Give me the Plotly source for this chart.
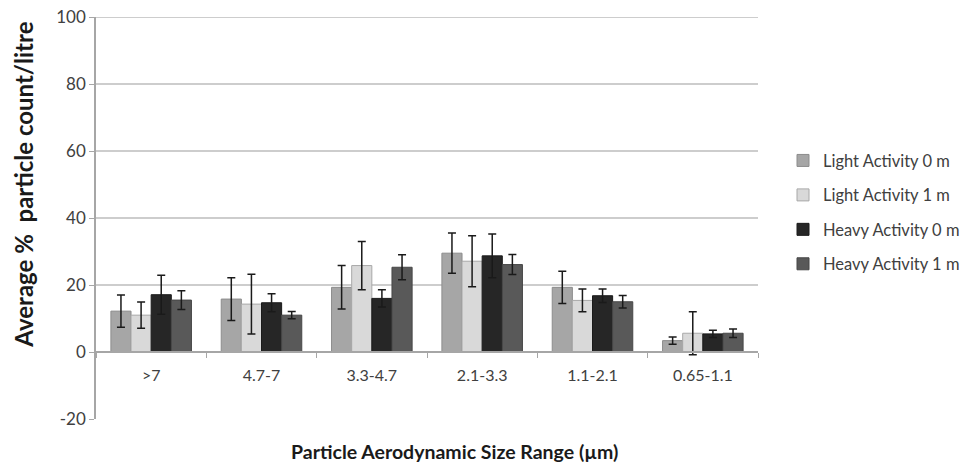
import plotly.graph_objects as go

categories = [">7", "4.7-7", "3.3-4.7", "2.1-3.3", "1.1-2.1", "0.65-1.1"]
series_names = ["Light Activity 0 m", "Light Activity 1 m", "Heavy Activity 0 m", "Heavy Activity 1 m"]

light_0m = [12.2, 15.8, 19.3, 29.5, 19.3, 3.4]
light_0m_err = [4.8, 6.4, 6.5, 6.0, 4.8, 1.1]
light_1m = [11.0, 14.3, 25.8, 27.1, 15.4, 5.6]
light_1m_err = [3.9, 8.9, 7.2, 7.6, 3.4, 6.4]
heavy_0m = [17.1, 14.7, 16.0, 28.7, 16.8, 5.4]
heavy_0m_err = [5.8, 2.7, 2.6, 6.5, 2.0, 1.1]
heavy_1m = [15.5, 11.0, 25.3, 26.1, 15.0, 5.6]
heavy_1m_err = [2.8, 1.1, 3.7, 3.0, 1.9, 1.3]

y_ticks = [-20, 0, 20, 40, 60, 80, 100]
y_tick_labels = ["-20", "0", "20", "40", "60", "80", "100"]
grid_values = [20, 40, 60, 80, 100]

values = [light_0m, light_1m, heavy_0m, heavy_1m]
errors = [light_0m_err, light_1m_err, heavy_0m_err, heavy_1m_err]
colors = ["#a6a6a6", "#d9d9d9", "#262626", "#595959"]
edge = ["#8c8c8c", "#a8a8a8", "#1a1a1a", "#474747"]

FONT = "Lato, 'Open Sans', sans-serif"
TXT = "#404040"

fig = go.Figure()
for i, (name, v, e) in enumerate(zip(series_names, values, errors)):
    fig.add_trace(go.Bar(
        x=categories, y=v, name=name, legendgroup=name,
        marker=dict(color=colors[i], line=dict(color=edge[i], width=1)),
        error_y=dict(type="data", array=e, visible=True, color="#1a1a1a",
                     thickness=1.5, width=4),
    ))

shapes = []
for g in grid_values:
    shapes.append(dict(type="line", xref="paper", x0=0, x1=1, yref="y", y0=g, y1=g,
                       line=dict(color="#bdbdbd", width=1.5), layer="below"))

fig.update_layout(
    width=971, height=462,
    margin=dict(l=96, r=213, t=17, b=43, autoexpand=False),
    paper_bgcolor="white", plot_bgcolor="white",
    barmode="group", bargap=0.27, bargroupgap=0,
    font=dict(family=FONT, size=16, color=TXT),
    showlegend=True,
    legend=dict(xref="container", yref="container", x=0.8064, xanchor="left",
                y=0.690, yanchor="top",
                tracegroupgap=10, font=dict(size=16.5, color=TXT),
                bgcolor="rgba(0,0,0,0)"),
    shapes=shapes,
    xaxis=dict(type="category", categoryorder="array", categoryarray=categories,
               anchor="free", position=20/120, automargin=False,
               showline=True, linecolor="#a6a6a6", linewidth=1.5,
               ticks="outside", tickson="boundaries", ticklen=5, tickcolor="#a6a6a6",
               showgrid=False, ticklabelstandoff=9,
               tickfont=dict(size=16, color=TXT)),
    yaxis=dict(range=[-20, 100], tickvals=y_ticks, ticktext=y_tick_labels,
               showgrid=False, zeroline=False, automargin=False,
               showline=True, linecolor="#a6a6a6", linewidth=1.5,
               ticks="outside", ticklen=5, tickcolor="#a6a6a6",
               tickfont=dict(size=17, color=TXT)),
    annotations=[
        dict(text="<b>Average %  particle count/litre</b>", textangle=-90,
             xref="paper", yref="y", x=-0.110, y=50, xanchor="center", yanchor="middle",
             showarrow=False, font=dict(size=24, color="#1a1a1a")),
        dict(text="<b>Particle Aerodynamic Size Range (µm)</b>",
             xref="paper", yref="paper", x=0.542, y=-0.082, xanchor="center", yanchor="middle",
             showarrow=False, font=dict(size=19.5, color="#1a1a1a")),
    ],
)

fig.write_html("out.html", config={"displayModeBar": False},
               post_script="document.body.style.margin='0';document.body.style.overflow='hidden';")
